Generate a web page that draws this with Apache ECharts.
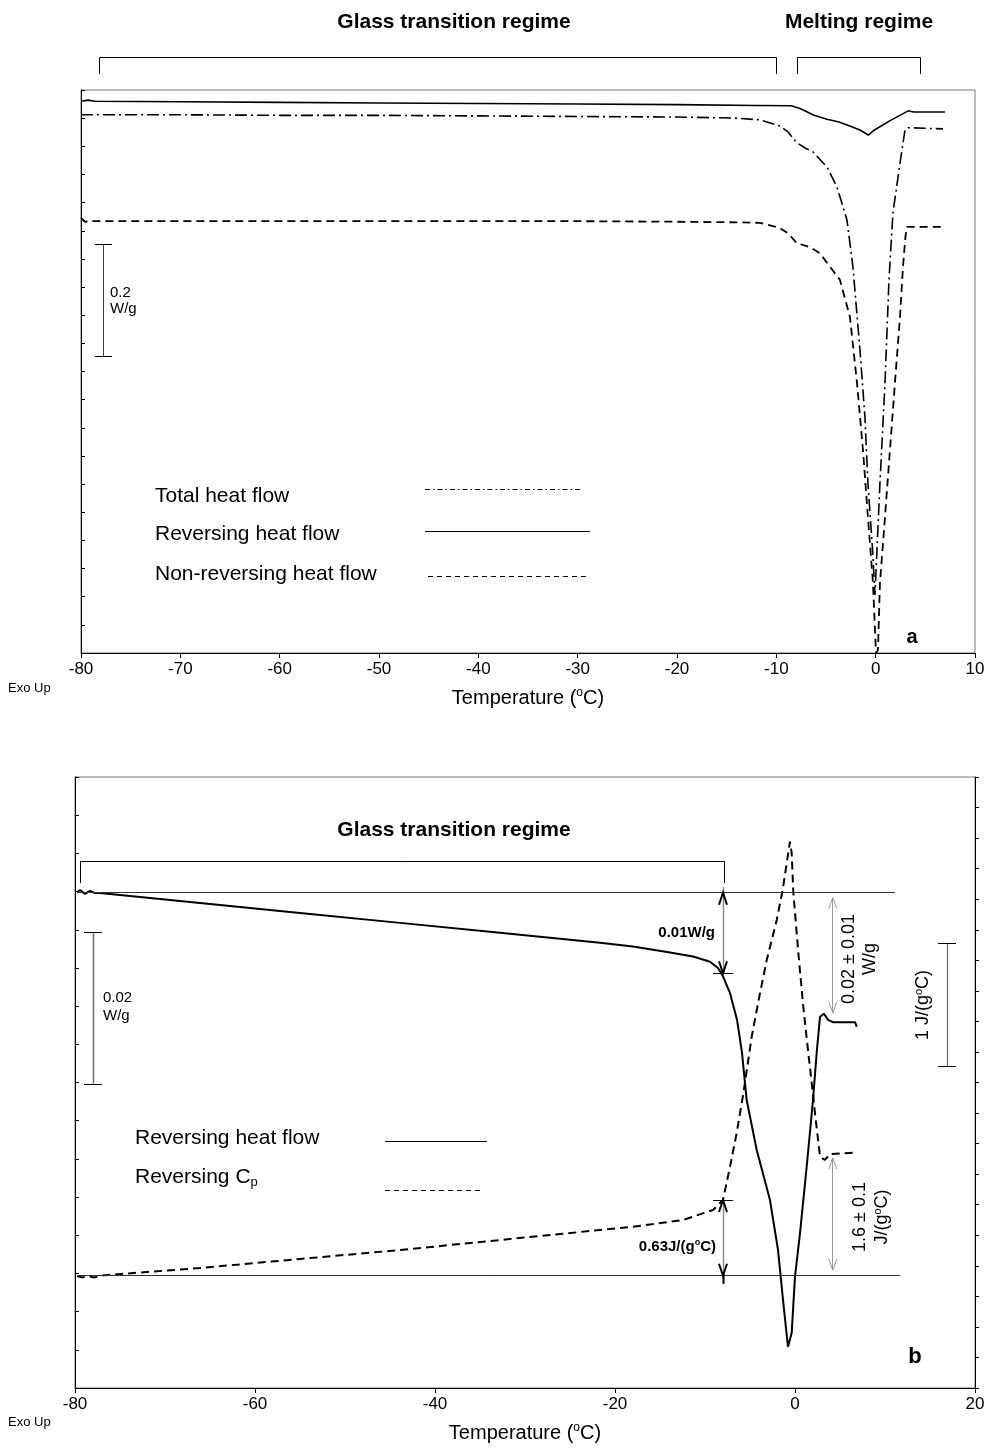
<!DOCTYPE html>
<html><head><meta charset="utf-8">
<script src="https://cdn.jsdelivr.net/npm/echarts@6/dist/echarts.min.js"></script>
<style>html,body{margin:0;padding:0;background:#fff}#c{width:997px;height:1450px}</style>
</head><body><div id="c"></div>
<script>
// ---------- Panel a data (heat flow, W/g, arbitrary offset) ----------
const aTicksX = [-80, -70, -60, -50, -40, -30, -20, -10, 0, 10];
const aRevT = [-80, -79.3, -78.6, -70, -60, -50, -40, -30, -20, -12, -8.5, -7.62, -6.2, -4.9, -3.7, -2.59, -1.6, -0.74, -0.21, 1.5, 3.28, 3.8, 6.98];
const aRevV = [0.980, 0.982, 0.980, 0.979, 0.978, 0.977, 0.976, 0.975, 0.974, 0.9725, 0.972, 0.967, 0.955, 0.948, 0.943, 0.936, 0.929, 0.920, 0.928, 0.946, 0.963, 0.961, 0.961];
const aTotT = [-80, -70, -60, -50, -40, -30, -20, -14, -11.65, -9.64, -8.8, -7.93, -7.1, -6.31, -4.9, -3.9, -2.89, -2.29, -1.58, -1.08, -0.78, -0.3, -0.07, 0.15, 0.43, 0.94, 1.34, 1.74, 2.45, 2.95, 3.25, 5, 6.78];
const aTotV = [0.956, 0.956, 0.955, 0.955, 0.954, 0.953, 0.952, 0.950, 0.947, 0.936, 0.925, 0.906, 0.897, 0.890, 0.863, 0.828, 0.769, 0.686, 0.538, 0.419, 0.302, 0.180, 0.103, 0.190, 0.302, 0.480, 0.663, 0.782, 0.870, 0.929, 0.933, 0.932, 0.931];
const aNonT = [-80, -79.6, -79, -70, -60, -50, -40, -30, -20, -14, -11.65, -9.64, -8.8, -7.93, -6.62, -5.61, -4.6, -3.6, -2.59, -1.88, -1.28, -0.78, -0.27, 0.03, 0.23, 0.43, 0.94, 1.44, 1.94, 2.45, 2.75, 3.0, 3.15, 5, 6.98];
const aNonV = [0.773, 0.766, 0.767, 0.767, 0.767, 0.767, 0.767, 0.767, 0.766, 0.765, 0.764, 0.755, 0.745, 0.728, 0.721, 0.710, 0.686, 0.663, 0.597, 0.480, 0.361, 0.242, 0.124, 0.0, 0.005, 0.124, 0.242, 0.361, 0.480, 0.597, 0.686, 0.740, 0.757, 0.757, 0.757];

// ---------- Panel b data ----------
const bTicksX = [-80, -60, -40, -20, 0, 20];
const bRevT = [-79.78, -79.44, -78.89, -78.33, -77.78, -77.22, -66.11, -55, -43.89, -32.78, -21.67, -18.0, -14.22, -11.33, -9.44, -8.56, -8.0, -7.22, -6.44, -5.89, -5.37, -4.26, -2.78, -1.89, -1.33, -0.78, -0.37, 0, 0.56, 1.3, 2.0, 2.41, 2.78, 3.22, 3.67, 4.22, 6.67, 6.86];
const bRevV = [0.0649, 0.0652, 0.0647, 0.0651, 0.0648, 0.0648, 0.0635, 0.0622, 0.0609, 0.0596, 0.0583, 0.0578, 0.0571, 0.0565, 0.0558, 0.0550, 0.0539, 0.0517, 0.0482, 0.0439, 0.0377, 0.0312, 0.0246, 0.0181, 0.0115, 0.0054, 0.0072, 0.0146, 0.0203, 0.0290, 0.0377, 0.0439, 0.0486, 0.0490, 0.0482, 0.0479, 0.0479, 0.0473];
const bCpT = [-79.78, -79.2, -78.6, -77.8, -77.22, -66.11, -55, -43.89, -32.78, -21.67, -18.0, -12.44, -9.11, -8.0, -7.22, -6.48, -5.74, -4.81, -3.89, -3.14, -2.03, -1.37, -0.56, -0.37, -0.19, 0.37, 0.92, 1.48, 2.03, 2.22, 2.78, 3.33, 3.89, 6.86];
const bCpV = [0.917, 0.905, 0.915, 0.905, 0.920, 0.982, 1.056, 1.129, 1.211, 1.293, 1.320, 1.375, 1.457, 1.538, 1.811, 2.087, 2.410, 2.875, 3.232, 3.502, 3.830, 4.075, 4.471, 4.378, 4.061, 3.560, 3.120, 2.741, 2.384, 2.250, 1.893, 1.866, 1.915, 1.926];

// annotation values (data units)
const refHF = 0.06485;      // W/g, upper reference line
const refCp = 0.919;        // J/(g°C), lower reference line
const kneeT = -8.0;         // °C, glass transition end
const kneeHF = 0.0543;      // W/g
const kneeCp = 1.538;       // J/(g°C)
const meltT = 4.2;          // °C, melting step arrows
const meltHF = [0.0642, 0.0491];
const meltCp = [1.882, 0.965];
const refEndT = [11.1, 11.7];

const FONT = '"Liberation Sans", Arial, Helvetica, sans-serif';
const zip = (a, b) => a.map((v, i) => [v, b[i]]);

const chart = echarts.init(document.getElementById('c'), null, {renderer: 'canvas'});

function xAx(grid, min, max, interval) {
  return {
    gridIndex: grid, type: 'value', min: min, max: max, interval: interval,
    axisLine: {show: true, onZero: false, lineStyle: {color: '#000', width: 1}},
    axisTick: {show: true, inside: false, length: 5, lineStyle: {color: '#000'}},
    axisLabel: {show: true, color: '#000', fontSize: 17, fontFamily: FONT, margin: 8},
    splitLine: {show: false},
    name: '{n|Temperature (}{s|o}{n|C)}', nameLocation: 'middle', nameGap: 34,
    nameTextStyle: {color: '#000', fontFamily: FONT, fontSize: 20,
      rich: {n: {fontSize: 20, fontFamily: FONT, color: '#000'},
             s: {fontSize: 12, fontFamily: FONT, color: '#000', padding: [0, 0, 10, 0]}}}
  };
}
function yAx(grid, min, max, interval, pos, inside) {
  return {
    gridIndex: grid, type: 'value', min: min, max: max, interval: interval, position: pos,
    axisLine: {show: true, onZero: false, lineStyle: {color: '#000', width: 1}},
    axisTick: {show: true, inside: inside, length: 4, lineStyle: {color: '#000'}},
    axisLabel: {show: false}, splitLine: {show: false}
  };
}

chart.setOption({
  animation: false,
  backgroundColor: '#fff',
  grid: [
    {left: 81, top: 90, width: 894, height: 563, show: true, borderColor: '#777', borderWidth: 1},
    {left: 75, top: 777, width: 900, height: 611, show: true, borderColor: '#777', borderWidth: 1}
  ],
  xAxis: [xAx(0, aTicksX[0], aTicksX[aTicksX.length - 1], 10), xAx(1, bTicksX[0], bTicksX[bTicksX.length - 1], 20)],
  yAxis: [yAx(0, 0, 1, 0.05, 'left', true), yAx(1, 0, 0.08, 0.005, 'left', true), yAx(1, 0, 5, 0.25, 'right', false)],
  series: [
    {type: 'line', xAxisIndex: 0, yAxisIndex: 0, data: zip(aTotT, aTotV), symbol: 'none',
     lineStyle: {color: '#000', width: 1.6, type: [12, 4, 2, 4]}},
    {type: 'line', xAxisIndex: 0, yAxisIndex: 0, data: zip(aRevT, aRevV), symbol: 'none',
     lineStyle: {color: '#000', width: 1.6, type: 'solid'}},
    {type: 'line', xAxisIndex: 0, yAxisIndex: 0, data: zip(aNonT, aNonV), symbol: 'none',
     lineStyle: {color: '#000', width: 1.8, type: [8, 5]}},
    {type: 'line', xAxisIndex: 1, yAxisIndex: 1, data: zip(bRevT, bRevV), symbol: 'none',
     lineStyle: {color: '#000', width: 2, type: 'solid'}},
    {type: 'line', xAxisIndex: 1, yAxisIndex: 2, data: zip(bCpT, bCpV), symbol: 'none',
     lineStyle: {color: '#000', width: 2, type: [8, 5]}}
  ]
});

// ---------- annotations ----------
const G = [];
const crisp = v => Math.round(v - 0.5) + 0.5;
function L(x1, y1, x2, y2, stroke, w, dash) {
  if (x1 === x2) { x1 = x2 = crisp(x1); }
  if (y1 === y2) { y1 = y2 = crisp(y1); }
  G.push({type: 'line', silent: true, z: 50, shape: {x1, y1, x2, y2},
    style: {stroke: stroke || '#000', lineWidth: w || 1, lineDash: dash || null}});
}
function P(points, stroke, w) {
  G.push({type: 'polyline', silent: true, z: 50, shape: {points},
    style: {stroke: stroke || '#000', lineWidth: w || 1, fill: null}});
}
function T(x, y, text, size, opts) {
  opts = opts || {};
  G.push({type: 'text', silent: true, z: 50, x: x, y: y, rotation: opts.rot || 0,
    style: {text: text, fill: '#000', fontSize: size, fontFamily: FONT, fontWeight: opts.bold ? 'bold' : 'normal',
      align: opts.align || 'left', verticalAlign: opts.va || 'middle',
      textAlign: opts.align || 'left', textVerticalAlign: opts.va || 'middle',
      lineHeight: opts.lh || size * 1.15, rich: opts.rich || undefined}});
}
const pB = (t, v) => chart.convertToPixel({xAxisIndex: 1, yAxisIndex: 1}, [t, v]);
const pC = (t, v) => chart.convertToPixel({xAxisIndex: 1, yAxisIndex: 2}, [t, v]);

const supRich = (size) => ({
  n: {fontSize: size, fontFamily: FONT, color: '#000'},
  nb: {fontSize: size, fontFamily: FONT, fontWeight: 'bold', color: '#000'},
  s: {fontSize: Math.round(size * 0.62), fontFamily: FONT, color: '#000', padding: [0, 0, Math.round(size * 0.5), 0]},
  sb: {fontSize: Math.round(size * 0.62), fontFamily: FONT, fontWeight: 'bold', color: '#000', padding: [0, 0, Math.round(size * 0.5), 0]},
  sub: {fontSize: Math.round(size * 0.62), fontFamily: FONT, color: '#000', padding: [Math.round(size * 0.5), 0, 0, 0]}
});

// Panel a: regime labels and brackets
T(454, 22, 'Glass transition regime', 21, {bold: true, align: 'center'});
T(859, 22, 'Melting regime', 21, {bold: true, align: 'center'});
P([[99.5, 74], [99.5, 57.5], [776.5, 57.5], [776.5, 74]], '#000', 1);
P([[797.5, 74], [797.5, 57.5], [920.5, 57.5], [920.5, 74]], '#000', 1);
// Panel a scale bar
L(103, 244, 103, 356, '#444', 1);
L(95, 244, 112, 244, '#000', 1);
L(95, 356, 112, 356, '#000', 1);
T(110, 293, '0.2', 15);
T(110, 309, 'W/g', 15);
// Panel a legend
T(155, 496, 'Total heat flow', 21);
T(155, 534, 'Reversing heat flow', 21);
T(155, 574, 'Non-reversing heat flow', 21);
L(425, 489, 583, 489, '#000', 1, [5, 3, 1.5, 3]);
L(425, 531, 590, 531, '#000', 1.2);
L(428, 576, 588, 576, '#000', 1, [5, 4]);
T(912, 637, 'a', 20, {bold: true, align: 'center'});
T(8, 688, 'Exo Up', 13);

// Panel b
T(454, 830, 'Glass transition regime', 21, {bold: true, align: 'center'});
P([[80.5, 883], [80.5, 861.5], [724.5, 861.5], [724.5, 883]], '#000', 1);
// reference lines
const r1a = pB(bRevT[0], refHF), r1b = pB(refEndT[0], refHF);
L(r1a[0], r1a[1], r1b[0], r1a[1], '#333', 1);
const r2a = pC(bCpT[0], refCp), r2b = pC(refEndT[1], refCp);
L(r2a[0], r2a[1], r2b[0], r2a[1], '#333', 1);
// 0.01 W/g arrow
const k1 = pB(kneeT, refHF), k2 = pB(kneeT, kneeHF);
L(k1[0], k1[1] - 6, k1[0], k2[1], '#888', 1.4);
P([[k1[0] - 4, k1[1] + 12], [k1[0], k1[1]], [k1[0] + 4, k1[1] + 12]], '#000', 2);
P([[k2[0] - 4, k2[1] - 12], [k2[0], k2[1]], [k2[0] + 4, k2[1] - 12]], '#000', 2);
L(k2[0] - 10, k2[1], k2[0] + 10, k2[1], '#000', 1);
T(k1[0] - 8, 933, '0.01W/g', 15, {bold: true, align: 'right'});
// 0.63 J/(g°C) arrow
const c1 = pC(kneeT, kneeCp), c2 = pC(kneeT, refCp);
L(c1[0], c1[1], c1[0], c2[1] + 8, '#888', 1.4);
P([[c1[0] - 4, c1[1] + 12], [c1[0], c1[1]], [c1[0] + 4, c1[1] + 12]], '#000', 2);
P([[c2[0] - 4, c2[1] - 12], [c2[0], c2[1]], [c2[0] + 4, c2[1] - 12]], '#000', 2);
L(c1[0] - 10, c1[1], c1[0] + 10, c1[1], '#000', 1);
L(c2[0], c2[1] - 2, c2[0], c2[1] + 8, '#000', 2);
T(c1[0] - 7, 1247, '{nb|0.63J/(g}{sb|o}{nb|C)}', 15, {align: 'right', rich: supRich(15)});
// melting arrows (thin)
function thinArrow(a, b) {
  L(a[0], a[1], b[0], b[1], '#999', 1);
  P([[a[0] - 4, a[1] + 11], [a[0], a[1]], [a[0] + 4, a[1] + 11]], '#999', 1);
  P([[b[0] - 4, b[1] - 11], [b[0], b[1]], [b[0] + 4, b[1] - 11]], '#999', 1);
}
thinArrow(pB(meltT, meltHF[0]), pB(meltT, meltHF[1]));
thinArrow(pC(meltT, meltCp[0]), pC(meltT, meltCp[1]));
T(860, 959, '0.02 \u00b1 0.01\nW/g', 18, {align: 'center', rot: Math.PI / 2, lh: 21});
T(871, 1217, '{n|1.6 \u00b1 0.1}\n{n|J/(g}{s|o}{n|C)}', 18, {align: 'center', rot: Math.PI / 2, lh: 22, rich: supRich(18)});
// right scale bar 1 J/(g°C)
L(947, 943, 947, 1066, '#666', 1.2);
L(938, 943, 956, 943, '#000', 1);
L(938, 1066, 956, 1066, '#000', 1);
T(923, 1005, '{n|1 J/(g}{s|o}{n|C)}', 18, {align: 'center', rot: Math.PI / 2, rich: supRich(18)});
// left scale bar 0.02 W/g
L(93, 932, 93, 1084, '#777', 1.6);
L(84, 932, 102, 932, '#000', 1);
L(84, 1084, 102, 1084, '#000', 1);
T(103, 998, '0.02', 15);
T(103, 1016, 'W/g', 15);
// legend b
T(135, 1138, 'Reversing heat flow', 21);
T(135, 1177, '{n|Reversing C}{sub|p}', 21, {rich: supRich(21)});
L(385, 1141, 487, 1141, '#000', 1.2);
L(385, 1190, 483, 1190, '#000', 1, [5, 4]);
T(915, 1357, 'b', 22, {bold: true, align: 'center'});
T(8, 1422, 'Exo Up', 13);

chart.setOption({graphic: {elements: G}});
</script>
</body></html>
